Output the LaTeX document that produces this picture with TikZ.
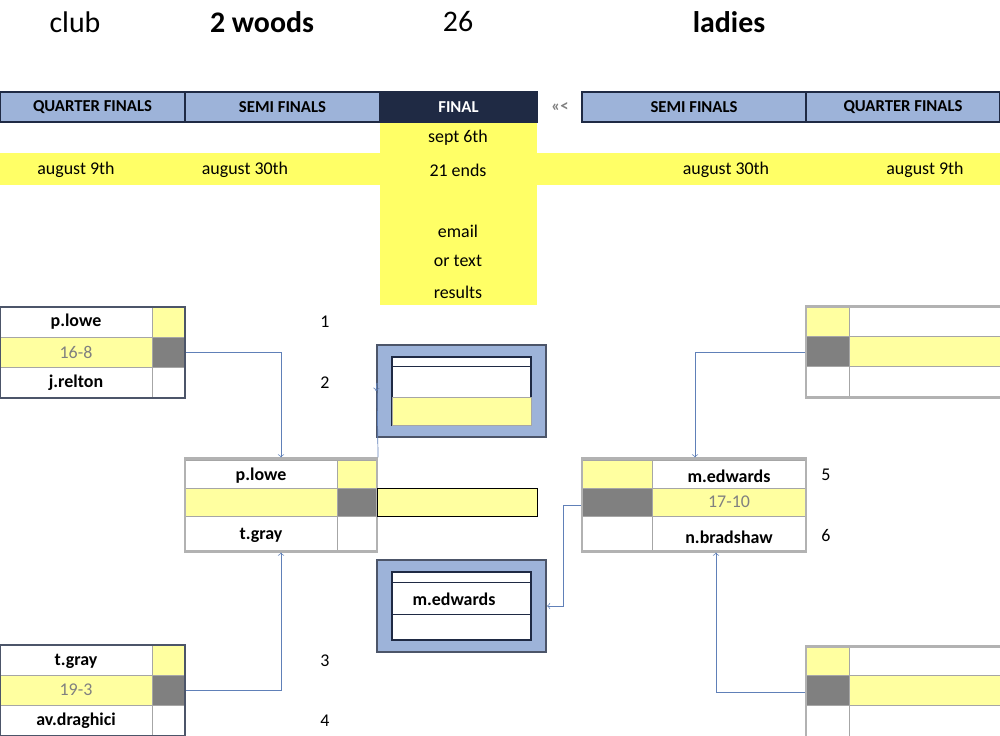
\documentclass[tikz,border=0pt]{standalone}
\usepackage{fontspec}
\setmainfont{Carlito}
\usetikzlibrary{calc,positioning}
\definecolor{hdrblue}{HTML}{9DB3D9}
\definecolor{navy}{HTML}{1F2A44}
\definecolor{band}{HTML}{FFFF66}
\definecolor{pale}{HTML}{FFFFA0}
\definecolor{dgray}{HTML}{808080}
\definecolor{link}{HTML}{6080B8}
\newcommand{\tikzCell}[3]{
  \path[draw=gray!70,fill=#3] (#1) rectangle (#2);
}
\begin{document}
\begin{tikzpicture}[x=0.02cm,y=-0.02cm,font=\fontsize{10.2}{12}\selectfont,
  hdr/.style={draw=navy,thick,fill=hdrblue,minimum height=0.6cm,inner sep=0pt,font=\fontsize{9.5}{11}\selectfont\bfseries},
  lbl/.style={inner sep=0pt},
  score/.style={inner sep=0pt,text=dgray},
  box/.style={draw=#1,very thick,inner sep=0pt},
  arr/.style={draw=link,->},
  link/.style={draw=link}]
  \useasboundingbox (0,0) rectangle (1000,736);

  \node[font=\fontsize{17}{20}\selectfont] (club) at (75,22) {club};
  \node[font=\fontsize{17}{20}\selectfont\bfseries] (woods) at (262,22) {2 woods};
  \node[font=\fontsize{17}{20}\selectfont] (num) at (458,22) {26};
  \node[font=\fontsize{17}{20}\selectfont\bfseries] (ladies) at (729,22) {ladies};

  % yellow band and final column
  \fill[band] (0,153) rectangle (1000,185);
  \fill[band] (380,122) rectangle (537,305);
  \node[hdr,minimum width=3.7cm] (qfl) at (92.5,107) {QUARTER FINALS};
  \node[hdr,minimum width=3.9cm] (sfl) at (282.5,107) {SEMI FINALS};
  \node[hdr,fill=navy,text=white,minimum width=3.14cm] (fin) at (458.5,107) {FINAL};
  \node[lbl,text=dgray,font=\fontsize{9.5}{11}\selectfont\bfseries] (back) at (560,107) {<<<};
  \node[hdr,minimum width=4.48cm] (sfr) at (694,107) {SEMI FINALS};
  \node[hdr,minimum width=3.88cm] (qfr) at (903,107) {QUARTER FINALS};
  \node[lbl] (d1) at (76,170) {august 9th};
  \node[lbl] (d2) at (245,170) {august 30th};
  \node[lbl] (d3) at (458,138) {sept 6th};
  \node[lbl] (d4) at (458,170) {21 ends};
  \node[lbl] (d5) at (458,231) {email};
  \node[lbl] (d6) at (458,261) {or text};
  \node[lbl] (d7) at (458,292) {results};
  \node[lbl] (d8) at (726,170) {august 30th};
  \node[lbl] (d9) at (925,170) {august 9th};

  % left quarter finals
  \tikzCell{0,307}{152,337}{white}\tikzCell{152,307}{185,337}{pale}
  \tikzCell{0,337}{152,367}{pale}\tikzCell{152,337}{185,367}{dgray}
  \tikzCell{0,367}{152,398}{white}\tikzCell{152,367}{185,398}{white}
  \node[box=navy!80,minimum width=3.7cm,minimum height=1.82cm] (qf1) at (92.5,352.5) {};
  \node[lbl,font=\fontsize{10.2}{12}\selectfont\bfseries] at (76,322) {p.lowe};
  \node[score] at (76,352) {16-8};
  \node[lbl,font=\fontsize{10.2}{12}\selectfont\bfseries] at (76,383) {j.relton};

  \tikzCell{0,645}{152,675}{white}\tikzCell{152,645}{185,675}{pale}
  \tikzCell{0,675}{152,705}{pale}\tikzCell{152,675}{185,705}{dgray}
  \tikzCell{0,705}{152,736}{white}\tikzCell{152,705}{185,736}{white}
  \node[box=navy!80,minimum width=3.7cm,minimum height=1.82cm] (qf2) at (92.5,690.5) {};
  \node[lbl,font=\fontsize{10.2}{12}\selectfont\bfseries] at (76,661) {t.gray};
  \node[score] at (76,690) {19-3};
  \node[lbl,font=\fontsize{10.2}{12}\selectfont\bfseries] at (76,721) {av.draghici};

  \node[lbl] (n1) at (325,322) {1};
  \node[lbl] (n2) at (325,383) {2};
  \node[lbl] (n3) at (325,661) {3};
  \node[lbl] (n4) at (325,721) {4};
  \node[lbl] (n5) at (826,475) {5};
  \node[lbl] (n6) at (826,536) {6};

  % left semi final
  \tikzCell{185,460}{337,488}{white}\tikzCell{337,460}{377,488}{pale}
  \tikzCell{185,488}{337,516}{pale}\tikzCell{337,488}{377,516}{dgray}
  \tikzCell{185,516}{337,551}{white}\tikzCell{337,516}{377,551}{white}
  \node[box=gray!60,minimum width=3.84cm,minimum height=1.86cm] (sf1) at (281,505) {};
  \node[lbl,font=\fontsize{10.2}{12}\selectfont\bfseries] at (261,476) {p.lowe};
  \node[lbl,font=\fontsize{10.2}{12}\selectfont\bfseries] at (261,535) {t.gray};

  % final
  \node[box=navy!80,fill=hdrblue,minimum width=3.38cm,minimum height=1.84cm] (ft) at (461.5,391) {};
  \path[draw=navy,thick,fill=white] (392,357) rectangle (531,425);
  \path[draw=navy] (392,366) -- (531,366);
  \path[draw=gray!70,fill=pale] (392,397) rectangle (531,425);
  \node[draw=black,fill=pale,minimum width=3.2cm,minimum height=0.56cm,inner sep=0pt] (fbar) at (457,502) {};
  \node[box=navy!80,fill=hdrblue,minimum width=3.38cm,minimum height=1.84cm] (fb) at (461.5,606) {};
  \path[draw=navy,thick,fill=white] (392,572) rectangle (531,640);
  \path[draw=navy] (392,582) -- (531,582) (392,614) -- (531,614);
  \node[lbl,font=\fontsize{10.2}{12}\selectfont\bfseries] at (454,599) {m.edwards};

  % right semi final
  \tikzCell{582,460}{652,488}{pale}\tikzCell{652,460}{806,488}{white}
  \tikzCell{582,488}{652,516}{dgray}\tikzCell{652,488}{806,516}{pale}
  \tikzCell{582,516}{652,551}{white}\tikzCell{652,516}{806,551}{white}
  \node[box=gray!60,minimum width=4.48cm,minimum height=1.86cm] (sf2) at (694,505) {};
  \node[lbl,font=\fontsize{10.2}{12}\selectfont\bfseries] at (729,476) {m.edwards};
  \node[score] at (729,502) {17-10};
  \node[lbl,font=\fontsize{10.2}{12}\selectfont\bfseries] at (729,537) {n.bradshaw};

  % right quarter finals
  \tikzCell{806,307}{849,336}{pale}\tikzCell{849,307}{1000,336}{white}
  \tikzCell{806,336}{849,366}{dgray}\tikzCell{849,336}{1000,366}{pale}
  \tikzCell{806,366}{849,397}{white}\tikzCell{849,366}{1000,397}{white}
  \node[box=gray!60,minimum width=3.9cm,minimum height=1.82cm] (qf3) at (903.5,352) {};
  \tikzCell{806,645}{849,675}{pale}\tikzCell{849,645}{1000,675}{white}
  \tikzCell{806,675}{849,705}{dgray}\tikzCell{849,675}{1000,705}{pale}
  \tikzCell{806,705}{849,736}{white}\tikzCell{849,705}{1000,736}{white}
  \node[box=gray!60,minimum width=3.9cm,minimum height=1.82cm] (qf4) at (903.5,692) {};

  % connectors
  \path[arr] (qf1.east) -| (sf1.north);
  \path[arr] (qf2.east) -| (sf1.south);
  \path[link] (sf1.north east) -- (377,383);
  \path[arr] (377,383) -- (ft.west);
  \path[arr] (qf3.west) -| ($(sf2.north)+(1,0)$);
  \path[arr] (qf4.west) -| ($(sf2.south)+(22,0)$);
  \path[arr] (sf2.west) -- ++(-18,0) |- (fb.east);
\end{tikzpicture}
\end{document}
